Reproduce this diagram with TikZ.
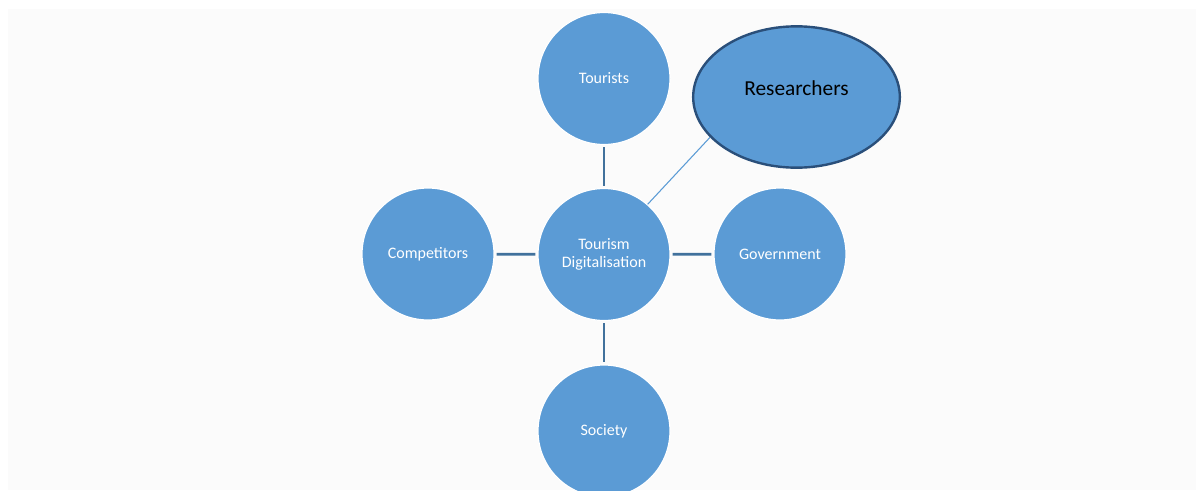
\documentclass[tikz,border=0pt]{standalone}
\usepackage{fontspec}
\setmainfont{Carlito}
\usetikzlibrary{shapes.geometric}
\definecolor{bubble}{HTML}{5B9BD5}
\definecolor{link}{HTML}{41719C}
\definecolor{rim}{HTML}{2A4F7A}
\definecolor{panel}{HTML}{FBFBFB}
\begin{document}
\begin{tikzpicture}[x=0.75pt,y=-0.75pt,
  bubble/.style={circle,fill=bubble,draw=white,line width=0.9pt,minimum size=99pt,
    inner sep=0pt,text=white,font=\fontsize{12}{13.5}\selectfont,align=center},
  tie/.style={draw=link,line width=2pt,shorten <=1.5pt,shorten >=1.5pt},
  thinlink/.style={draw=bubble,line width=0.8pt},
  oval/.style={ellipse,fill=bubble,draw=rim,line width=1.8pt,minimum width=155pt,
    minimum height=106pt,inner sep=0pt}]
\useasboundingbox (0,0) rectangle (1196,490);
\fill[panel] (8,9) rectangle (1196,490);

% hub and its four partners
\node[bubble] (hub) at (604,254.5) {Tourism\\Digitalisation};
\node[bubble] (tourists) at (604,78.5) {Tourists};
\node[bubble] (competitors) at (428,254) {Competitors};
\node[bubble] (government) at (780,254) {Government};
\node[bubble] (society) at (604,431) {Society};

% highlighted stakeholder
\node[oval] (researchers) at (796.5,97) {};
\node[font=\fontsize{16}{19}\selectfont,text=black] (restext) at (796.5,88) {Researchers};

% connectors
\draw[tie] (tourists) -- (hub);
\draw[tie] (competitors) -- (hub);
\draw[tie] (hub) -- (government);
\draw[tie] (hub) -- (society);
\draw[thinlink] (hub.49) -- (researchers.205);
\end{tikzpicture}
\end{document}
